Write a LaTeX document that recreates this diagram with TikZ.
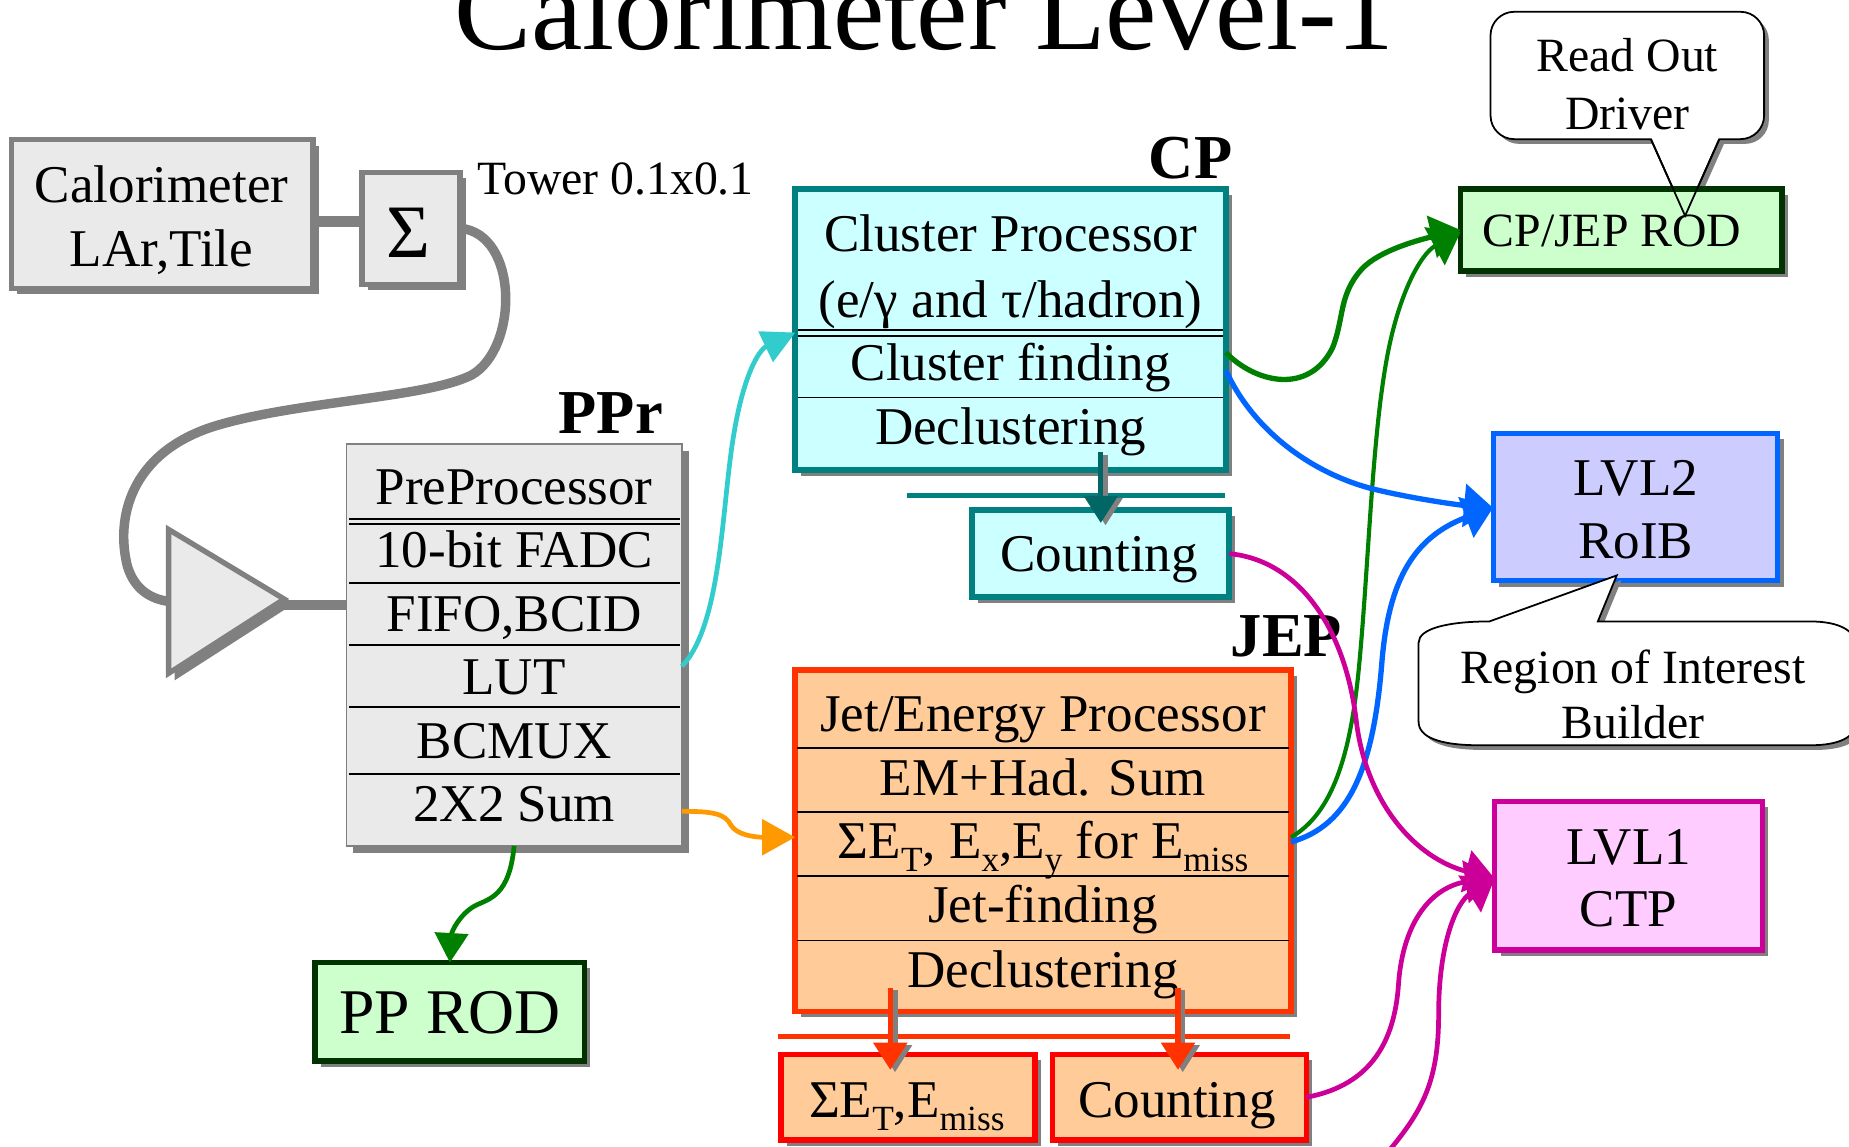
\documentclass[tikz,border=0pt]{standalone}
\usepackage{fontspec}
\setmainfont{Liberation Serif}
\usetikzlibrary{arrows.meta,shadows,calc}

% palette
\definecolor{shgray}{HTML}{808080}
\definecolor{panel}{HTML}{EAEAEA}
\definecolor{cpfill}{HTML}{CCFFFF}
\definecolor{cpline}{HTML}{008080}
\definecolor{cparrow}{HTML}{006666}
\definecolor{cyanlink}{HTML}{33CCCC}
\definecolor{orangelink}{HTML}{FF9900}
\definecolor{greenlink}{HTML}{008000}
\definecolor{rodfill}{HTML}{CCFFCC}
\definecolor{rodline}{HTML}{003300}
\definecolor{jepfill}{HTML}{FFCC99}
\definecolor{jepline}{HTML}{FF3300}
\definecolor{sumline}{HTML}{FF0000}
\definecolor{bluelink}{HTML}{0066FF}
\definecolor{ltwofill}{HTML}{CCCCFF}
\definecolor{magentalink}{HTML}{CC0099}
\definecolor{lonefill}{HTML}{FFCCFF}

% type sizes
\newcommand\titlefont{\fontsize{98}{110}\selectfont}
\newcommand\boxfont{\fontsize{45}{54}\selectfont}
\newcommand\notefont{\fontsize{40.5}{48}\selectfont}
\newcommand\rodfont{\fontsize{54}{60}\selectfont}
\newcommand\sigmafont{\fontsize{64}{70}\selectfont}
\newcommand\tagfont{\fontsize{53}{60}\selectfont\bfseries}
\newcommand\lowsub[1]{\raisebox{-0.24em}{\fontsize{30}{30}\selectfont #1}}

\begin{document}
\begin{tikzpicture}[x=1pt,y=-1pt,
  frame/.style={draw, rectangle, inner sep=0pt, outer sep=0pt},
  shade box/.style={drop shadow={shadow xshift=5pt,shadow yshift=-5pt,fill=shgray,opacity=1}},
  graybox/.style={frame, draw=shgray, fill=panel, line width=4.5pt, shade box},
  txt/.style={anchor=base, inner sep=0pt, outer sep=0pt},
  divider/.style={black, line width=1.5pt, shorten <=2pt, shorten >=2pt},
  thickgray/.style={shgray, line width=9pt},
  link/.style={line width=4.5pt, -{Triangle[length=25pt,width=36pt]}},
  droparrow/.style={line width=4.5pt, -{Triangle[length=23pt,width=28pt]}},
  callout/.style={draw=black, line width=1.5pt, fill=white,
    drop shadow={shadow xshift=4pt,shadow yshift=-4pt,fill=shgray,opacity=1}}]

\useasboundingbox (0,0) rectangle (1568,972);
\fill[white] (0,0) rectangle (1568,972);

% heading
\node[txt, font=\titlefont] (title) at (784,42) {Calorimeter Level-1};

% ---------- calorimeter, tower sum and amplifier ----------
\node[graybox, minimum width=256pt, minimum height=126pt] (cal) at (137.5,181.5) {};
\node[txt, font=\boxfont] (calA) at (137,172) {Calorimeter};
\node[txt, font=\boxfont] (calB) at (137,226) {LAr,Tile};

\node[graybox, minimum width=83pt, minimum height=95pt] (sig) at (348.5,193.5) {};
\node[txt, font=\sigmafont] (sigtxt) at (346,218) {Σ};
\node[txt, font=\notefont] (tower) at (522,165) {Tower 0.1x0.1};

\draw[thickgray] (cal.east |- 0,188) -- (sig.west |- 0,188);

\coordinate (amptip) at (241,508);
\coordinate (ampin) at (143,510);
\draw[shgray, line width=4.5pt, fill=panel, line join=miter,
  drop shadow={shadow xshift=5pt,shadow yshift=-6pt,fill=shgray,opacity=1}]
  (143,449) -- (amptip) -- (143,571) -- cycle;

% analogue cable from the tower sum to the amplifier
\draw[shgray, line width=8pt]
  (sig.east) .. controls (440,198) and (440,295) .. (400,318)
  .. controls (360,338) and (250,340) .. (180,362)
  .. controls (110,385) and (98,440) .. (108,480)
  .. controls (114,500) and (128,508) .. (ampin);

% ---------- PreProcessor ----------
\node[frame, draw=shgray, fill=panel, line width=1.5pt,
  drop shadow={shadow xshift=6pt,shadow yshift=-6pt,fill=shgray,opacity=1},
  minimum width=284.5pt, minimum height=340.5pt] (ppr) at (436,547) {};
\draw[thickgray] (amptip |- 0,513) -- (ppr.west |- 0,513);
\draw[divider, line width=1.2pt] (ppr.west |- 0,440) -- (ppr.east |- 0,440);
\draw[divider, line width=1.2pt] (ppr.west |- 0,444.5) -- (ppr.east |- 0,444.5);
\draw[divider] (ppr.west |- 0,494.5) -- (ppr.east |- 0,494.5);
\draw[divider] (ppr.west |- 0,547) -- (ppr.east |- 0,547);
\draw[divider] (ppr.west |- 0,599.5) -- (ppr.east |- 0,599.5);
\draw[divider] (ppr.west |- 0,656.5) -- (ppr.east |- 0,656.5);
\node[txt, font=\boxfont] (pprA) at (436,428) {PreProcessor};
\node[txt, font=\boxfont] (pprB) at (436,481.5) {10-bit FADC};
\node[txt, font=\boxfont] (pprC) at (436,535.5) {FIFO,BCID};
\node[txt, font=\boxfont] (pprD) at (436,589) {LUT};
\node[txt, font=\boxfont] (pprE) at (436,643.5) {BCMUX};
\node[txt, font=\boxfont] (pprF) at (436,697) {2X2 Sum};
\node[txt, anchor=base east, font=\tagfont] (pprtag) at (562,367.5) {PPr};

\node[frame, draw=rodline, fill=rodfill, line width=4.5pt, shade box,
  minimum width=228.5pt, minimum height=83.5pt] (pprod) at (381.5,858) {};
\node[txt, font=\rodfont] (pprodtxt) at (381.5,876.5) {PP ROD};

% ---------- Cluster Processor ----------
\node[frame, draw=cpline, fill=cpfill, line width=5pt, shade box,
  minimum width=365pt, minimum height=238pt] (cp) at (857,279.5) {};
\draw[divider, line width=1.8pt] (cp.west |- 0,280) -- (cp.east |- 0,280);
\draw[divider, line width=1.8pt] (cp.west |- 0,285) -- (cp.east |- 0,285);
\draw[divider] (cp.west |- 0,337) -- (cp.east |- 0,337);
\node[txt, font=\boxfont] (cpA) at (857,213.5) {Cluster Processor};
\node[txt, font=\boxfont] (cpB) at (857,269) {(e/γ and τ/hadron)};
\node[txt, font=\boxfont] (cpC) at (857,323) {Cluster finding};
\node[txt, font=\boxfont] (cpD) at (857,377) {Declustering};
\node[txt, anchor=base east, font=\tagfont] (cptag) at (1045,151) {CP};

\draw[cpline, line width=4pt] (769,420) -- (1039,420);

\node[frame, draw=cpline, fill=cpfill, line width=5pt, shade box,
  minimum width=218pt, minimum height=74pt] (cntcp) at (933.5,469.5) {};
\node[txt, font=\boxfont] (cntcptxt) at (932,485) {Counting};

\draw[droparrow, shgray] ($(cp.south -| cntcp.north)+(4,-13)$) -- ($(cntcp.north)+(4,13)$);
\draw[droparrow, cparrow] ($(cp.south -| cntcp.north)+(0,-15)$) -- ($(cntcp.north)+(0,11)$);

% ---------- Jet/Energy Processor ----------
\node[frame, draw=jepline, fill=jepfill, line width=4.5pt, shade box,
  minimum width=420.5pt, minimum height=289.5pt] (jep) at (884.5,713) {};
\draw[divider] (jep.west |- 0,634.5) -- (jep.east |- 0,634.5);
\draw[divider] (jep.west |- 0,688.5) -- (jep.east |- 0,688.5);
\draw[divider] (jep.west |- 0,743) -- (jep.east |- 0,743);
\draw[divider] (jep.west |- 0,797.5) -- (jep.east |- 0,797.5);
\node[txt, font=\boxfont] (jepA) at (884.5,620) {Jet/Energy Processor};
\node[txt, font=\boxfont] (jepB) at (884.5,675) {EM+Had. Sum};
\node[txt, font=\boxfont] (jepC) at (884.5,728) {ΣE\lowsub{T}, E\lowsub{x},E\lowsub{y} for E\lowsub{miss}};
\node[txt, font=\boxfont] (jepD) at (884.5,782.5) {Jet-finding};
\node[txt, font=\boxfont] (jepE) at (884.5,837) {Declustering};
\node[txt, anchor=base east, font=\tagfont] (jeptag) at (1138,557) {JEP};

\draw[jepline, line width=4.5pt] (660,879) -- (1094,879);

\node[frame, draw=sumline, fill=jepfill, line width=4.5pt, shade box,
  minimum width=215.5pt, minimum height=72.5pt] (sumbox) at (770,930.5) {};
\node[txt, font=\boxfont] (sumtxt) at (769,948) {ΣE\lowsub{T},E\lowsub{miss}};
\node[frame, draw=sumline, fill=jepfill, line width=4.5pt, shade box,
  minimum width=215.5pt, minimum height=72.5pt] (cntjep) at (1000,930.5) {};
\node[txt, font=\boxfont] (cntjeptxt) at (998,948) {Counting};

\path (jep.south) ++(-129.5,-20) coordinate (ja);
\path (jep.south) ++(114.5,-20) coordinate (jb);
\draw[droparrow, shgray] ($(ja)+(4,2)$) -- ($(sumbox.north -| ja)+(4,15)$);
\draw[droparrow, shgray] ($(jb)+(4,2)$) -- ($(cntjep.north -| jb)+(4,15)$);
\draw[droparrow, jepline] (ja) -- ($(sumbox.north -| ja)+(0,13)$);
\draw[droparrow, jepline] (jb) -- ($(cntjep.north -| jb)+(0,13)$);

% ---------- read-out driver ----------
\draw[callout] (1400,118) -- (1429,183) -- (1458,118) -- (1476,118)
  .. controls (1487,118) and (1496,109) .. (1496,98) -- (1496,30)
  .. controls (1496,19) and (1487,10) .. (1476,10) -- (1284,10)
  .. controls (1273,10) and (1264,19) .. (1264,30) -- (1264,98)
  .. controls (1264,109) and (1273,118) .. (1284,118) -- cycle;
\node[txt, font=\notefont] (rodA) at (1380,61) {Read Out};
\node[txt, font=\notefont] (rodB) at (1380,109.5) {Driver};

\node[frame, draw=rodline, fill=rodfill, line width=5pt, shade box,
  minimum width=273pt, minimum height=69pt] (rod) at (1375,195) {};
\draw[black, line width=1.5pt] (1400,118) -- (1429,183) -- (1458,118);
\node[txt, font=\notefont] (rodtxt) at (1367,209) {CP/JEP ROD};

% ---------- level-2 and level-1 targets ----------
\node[frame, draw=bluelink, fill=ltwofill, line width=4.5pt, shade box,
  minimum width=241pt, minimum height=125pt] (lvltwo) at (1387,430) {};
\node[txt, font=\boxfont] (lvltwoA) at (1387,420) {LVL2};
\node[txt, font=\boxfont] (lvltwoB) at (1387,474) {RoIB};

\draw[callout] (1263,527) -- (1371,488) -- (1355,527) -- (1535,527)
  .. controls (1560,527) and (1574,535) .. (1574,548) -- (1574,612)
  .. controls (1574,625) and (1560,632) .. (1535,632) -- (1255,632)
  .. controls (1220,632) and (1203,625) .. (1203,612) -- (1203,545)
  .. controls (1203,533) and (1228,527) .. (1263,527) -- cycle;
\node[txt, font=\notefont] (roiA) at (1385,580) {Region of Interest};
\node[txt, font=\notefont] (roiB) at (1385,626) {Builder};

\node[frame, draw=magentalink, fill=lonefill, line width=4.5pt, shade box,
  minimum width=227pt, minimum height=126pt] (lvlone) at (1381,742.5) {};
\node[txt, font=\boxfont] (lvloneA) at (1381,733) {LVL1};
\node[txt, font=\boxfont] (lvloneB) at (1381,786) {CTP};

% ---------- data links ----------
\draw[link, cyanlink, line width=4pt, -{Triangle[length=28pt,width=28pt]}]
  (ppr.east |- 0,565) .. controls (612,530) and (612,430) .. (622,370)
  .. controls (630,320) and (643,297) .. (cp.west |- 0,282);
\draw[link, orangelink, line width=4pt, -{Triangle[length=28pt,width=30pt]}]
  (ppr.east |- 0,688) .. controls (605,688) and (615,690) .. (620,700)
  .. controls (625,708) and (640,710) .. (jep.west |- 0,710);
\draw[link, greenlink, line width=4pt, -{Triangle[length=25pt,width=28pt]}]
  (ppr.south) .. controls (432,760) and (415,762) .. (403,768)
  .. controls (390,775) and (383,790) .. (pprod.north);

\draw[link, greenlink, line width=3.5pt]
  (jep.east |- 0,710) .. controls (1130,690) and (1145,640) .. (1152,570)
  .. controls (1160,490) and (1163,380) .. (1175,310)
  .. controls (1185,250) and (1205,215) .. (rod.west |- 0,197);
\draw[link, greenlink]
  (cp.east |- 0,299) .. controls (1065,325) and (1110,335) .. (1130,295)
  .. controls (1140,270) and (1135,250) .. (1155,228)
  .. controls (1170,212) and (1205,203) .. (rod.west |- 0,195);

\draw[link, bluelink]
  (cp.east |- 0,314) .. controls (1065,370) and (1120,405) .. (1170,416)
  .. controls (1200,423) and (1235,428) .. (lvltwo.west |- 0,431);
\draw[link, bluelink]
  (jep.east |- 0,714) .. controls (1145,700) and (1165,650) .. (1172,560)
  .. controls (1178,490) and (1200,455) .. (lvltwo.west |- 0,430);

\coordinate (offpage) at (1170,985);
\draw[link, magentalink, line width=4pt]
  (cntcp.east) .. controls (1100,475) and (1140,530) .. (1150,610)
  .. controls (1158,680) and (1200,728) .. (lvlone.west |- 0,745);
\draw[link, magentalink, line width=4pt]
  (cntjep.east) .. controls (1165,920) and (1183,880) .. (1186,834)
  .. controls (1190,780) and (1215,752) .. (lvlone.west |- 0,744);
\draw[link, magentalink, line width=4pt]
  (offpage) .. controls (1205,945) and (1220,920) .. (1220,860)
  .. controls (1220,800) and (1235,765) .. (lvlone.west |- 0,745);

\end{tikzpicture}
\end{document}
